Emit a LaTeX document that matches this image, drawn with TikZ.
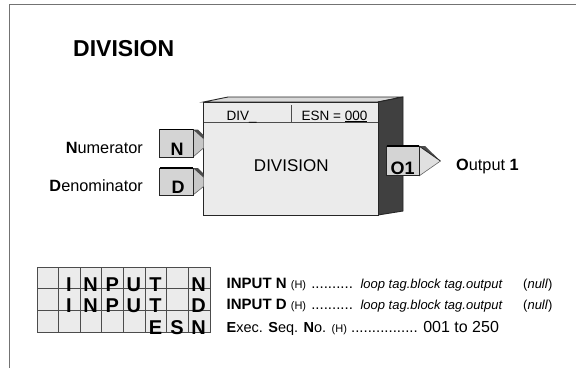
\documentclass[tikz,border=0pt]{standalone}
\usepackage{fontspec}
\setmainfont{Liberation Sans}
\tikzset{
  edge/.style={draw=black!85,line width=0.9pt},
  portbox/.style={edge,fill=black!17},
  lbl/.style={inner sep=0pt,anchor=base east,font=\fontsize{16.3}{18}\selectfont},
  small/.style={inner sep=0pt,anchor=base west,font=\fontsize{15}{17}\selectfont},
  gridl/.style={inner sep=0pt,anchor=base,font=\bfseries\fontsize{20}{22}\selectfont},
  portl/.style={inner sep=0pt,anchor=base,font=\bfseries\fontsize{18}{20}\selectfont}
}
\newcommand{\hh}{\fontsize{11}{12}\selectfont}
\newcommand{\lt}{\fontsize{13}{14}\selectfont\itshape}
\begin{document}
\begin{tikzpicture}[x=1pt,y=-1pt]
\useasboundingbox (0,0) rectangle (576,368);
\fill[white] (0,0) rectangle (576,368);
\draw[black!55,line width=1.2pt] (9.5,368) -- (9.5,4.5) -- (576,4.5);
\node[inner sep=0pt,anchor=base west,font=\bfseries\fontsize{23}{26}\selectfont] (title) at (73,56) {DIVISION};
% block
\draw[edge,fill=black!15] (203.5,102) -- (228,97) -- (403,97) -- (378,102) -- cycle;
\draw[edge,fill=black!75] (378,102) -- (403,97) -- (403,211) -- (378,215) -- cycle;
\draw[edge,fill=black!8] (203.5,102) rectangle (378,215);
\draw[black!70,line width=0.8pt] (203.5,122) -- (378,122);
\draw[black!70,line width=0.8pt] (291,105) -- (291,122);
\node[inner sep=0pt,anchor=base west,font=\fontsize{13.5}{15}\selectfont] (tag) at (226.5,120) {DIV\_};
\node[inner sep=0pt,anchor=base west,font=\fontsize{13.5}{15}\selectfont] (esn) at (301.5,120) {ESN = \underline{000}};
\node[inner sep=0pt,anchor=base,font=\fontsize{17}{19}\selectfont] (name) at (291.3,171) {DIVISION};
% N port
\fill[black!22] (193,129.5) -- (203.5,138) -- (203.5,148) -- (193,157) -- cycle;
\draw[black!60,line width=0.6pt] (193,157) -- (203.5,148);
\fill[black!70] (193,129.5) -- (198,129.5) -- (203.5,135) -- (203.5,139) -- cycle;
\draw[portbox] (159.5,129.5) rectangle (193,157);
\draw[black,line width=1.2pt] (159.5,129.5) -- (193,129.5);
\node[portl] (np) at (177,155) {N};
% D port
\fill[black!22] (193,168) -- (203.5,176.5) -- (203.5,186.5) -- (193,195) -- cycle;
\draw[black!60,line width=0.6pt] (193,195) -- (203.5,186.5);
\fill[black!70] (193,168) -- (198,168) -- (203.5,173.5) -- (203.5,177.5) -- cycle;
\draw[portbox] (159.5,168) rectangle (193,195);
\draw[black,line width=1.2pt] (159.5,168) -- (193,168);
\node[portl] (dp) at (178,193) {D};
% O1 port
\fill[black!12] (419,146) -- (440.5,161) -- (419,176) -- cycle;
\draw[black!60,line width=0.6pt] (419,176) -- (440.5,161);
\fill[black!70] (419,146) -- (425,146) -- (440.5,161) -- cycle;
\draw[black!85,line width=0.8pt] (419,146) -- (440.5,161);
\draw[portbox] (386.5,146) rectangle (419,175.5);
\draw[black,line width=1.2pt] (386.5,146) -- (419,146);
\node[portl] (op) at (402.7,174) {O1};
% labels
\node[lbl] (ln) at (143,153) {\textbf{N}umerator};
\node[lbl] (ld) at (143,191) {\textbf{D}enominator};
\node[lbl,anchor=base west] (lo) at (456,170.5) {\textbf{O}utput \textbf{1}};
% grid
\fill[black!8] (37,267) rectangle (210,332);
\draw[black!70,line width=0.9pt] (37,267) rectangle (210,332);
\foreach \i in {1,...,7} \draw[black!70,line width=0.8pt] ({37+21.625*\i},267) -- ({37+21.625*\i},332);
\foreach \j in {1,2} \draw[black!70,line width=0.8pt] (37,{267+21.67*\j}) -- (210,{267+21.67*\j});
\foreach \c/\t in {1/I,2/N,3/P,4/U,5/T,7/N} \node[gridl] at ({37+21.625*(\c+0.5)-0.5},291) {\t};
\foreach \c/\t in {1/I,2/N,3/P,4/U,5/T,7/D} \node[gridl] at ({37+21.625*(\c+0.5)-0.5},312) {\t};
\foreach \c/\t in {5/E,6/S,7/N} \node[gridl] at ({37+21.625*(\c+0.5)-0.5},334) {\t};
% right text
\node[small] (a) at (226.5,288.5) {\textbf{INPUT N} {\hh(H)} \hspace{1pt}.......... \hspace{2pt}{\lt loop tag.block tag.output}};
\node[small] (b) at (226.5,309.5) {\textbf{INPUT D} {\hh(H)} \hspace{1pt}.......... \hspace{2pt}{\lt loop tag.block tag.output}};
\node[small] (c) at (226.5,332) {{\fontsize{14.5}{17}\selectfont\textbf{E}xec. \textbf{S}eq. \textbf{N}o.} {\hh(H)} ................ {\fontsize{16}{17}\selectfont 001 to 250}};
\node[inner sep=0pt,anchor=base west,font=\fontsize{13}{14}\selectfont] (n1) at (523,288.5) {(\textit{null})};
\node[inner sep=0pt,anchor=base west,font=\fontsize{13}{14}\selectfont] (n2) at (523,309.5) {(\textit{null})};
\end{tikzpicture}
\end{document}
